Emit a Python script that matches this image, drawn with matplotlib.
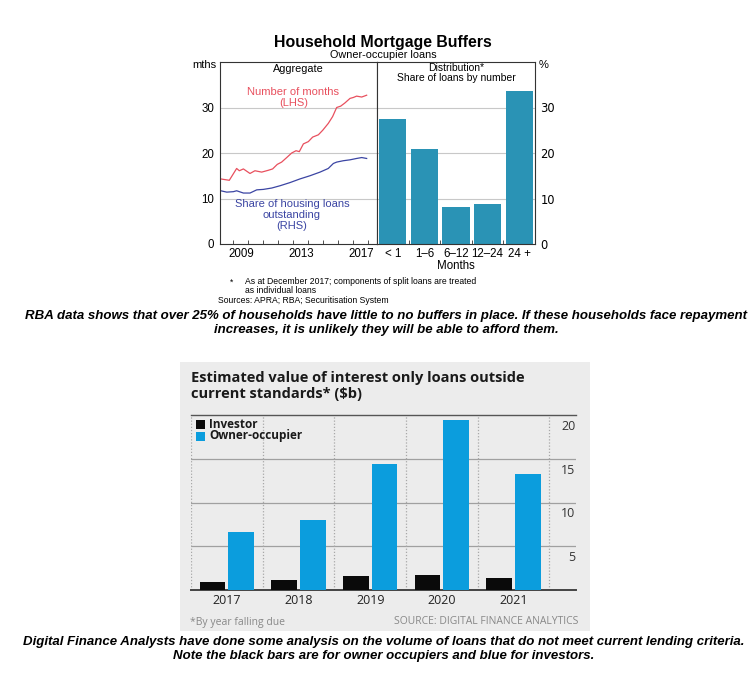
import matplotlib
matplotlib.use("Agg")
import matplotlib.pyplot as plt
from matplotlib.patches import Rectangle
import matplotlib.transforms as mtransforms

# --- RBA chart data -------------------------------------------------------
months_years = [2008.16, 2008.73, 2009.22, 2009.40, 2009.67, 2010.11, 2010.44,
                2010.89, 2011.33, 2011.62, 2011.93, 2012.22, 2012.56, 2012.89,
                2013.18, 2013.40, 2013.67, 2014.00, 2014.29, 2014.67, 2014.96,
                2015.33, 2015.62, 2015.89, 2016.16, 2016.44, 2016.78, 2017.00,
                2017.22, 2017.56, 2017.89]
months_vals = [14.3, 14.0, 16.6, 16.1, 16.5, 15.5, 16.1, 15.8, 16.2, 16.5, 17.5,
               18.0, 19.0, 20.0, 20.5, 20.3, 22.0, 22.5, 23.5, 24.0, 25.0, 26.5,
               28.0, 30.0, 30.3, 31.0, 32.0, 32.2, 32.5, 32.3, 32.7]

share_years = [2008.16, 2008.56, 2009.00, 2009.22, 2009.67, 2010.11, 2010.56,
               2011.00, 2011.56, 2012.11, 2012.78, 2013.44, 2014.11, 2014.78,
               2015.33, 2015.67, 2015.89, 2016.33, 2016.78, 2017.22, 2017.56,
               2017.89]
share_vals = [11.7, 11.4, 11.5, 11.7, 11.2, 11.2, 11.9, 12.0, 12.3, 12.8, 13.5,
              14.3, 15.0, 15.8, 16.6, 17.7, 18.0, 18.3, 18.5, 18.8, 19.0, 18.8]

dist_labels = ["< 1", "1\u20136", "6\u201312", "12\u201324", "24 +"]
dist_vals = [27.5, 20.8, 8.2, 8.8, 33.7]

# --- AFR chart data -------------------------------------------------------
years = ["2017", "2018", "2019", "2020", "2021"]
investor = [0.9, 1.1, 1.6, 1.7, 1.35]
owner_occ = [6.6, 8.0, 14.4, 19.4, 13.3]

W, H = 756, 686
RBA_FONT = "Liberation Sans"
AFR_FONT = "Open Sans"
RED = "#e8505e"
NAVY = "#3b45a3"
TEAL = "#2a93b5"
INV_COL = "#0a0a0a"
OWN_COL = "#0b9ddd"


def box(l, t, r, b):
    return [l / W, 1 - b / H, (r - l) / W, (b - t) / H]


def ftext(x, y, s, **kw):
    fig.text(x / W, 1 - y / H, s, **kw)


def frect(l, t, r, b, color, z=0):
    fig.patches.append(Rectangle((l / W, 1 - b / H), (r - l) / W, (b - t) / H,
                                 transform=fig.transFigure, facecolor=color,
                                 edgecolor="none", zorder=z))


fig = plt.figure(figsize=(W / 100, H / 100), dpi=100)

# ---------------- top chart ----------------
ftext(383, 46.5, "Household Mortgage Buffers", ha="center", va="baseline",
      fontsize=11.4, fontweight="bold", family=RBA_FONT)
ftext(383, 58.5, "Owner-occupier loans", ha="center", va="baseline",
      fontsize=7.8, family=RBA_FONT)

ax1 = fig.add_axes(box(220, 62, 377, 244))
ax2 = fig.add_axes(box(377, 62, 535, 244))

for ax in (ax1, ax2):
    ax.set_ylim(0, 40)
    ax.set_yticks([0, 10, 20, 30])
    for v in (10, 20, 30):
        ax.axhline(v, color="#c8c8c8", lw=0.8, zorder=0)
    for sp in ax.spines.values():
        sp.set_color("#333333")
        sp.set_linewidth(0.8)
    ax.tick_params(axis="y", length=0, labelsize=8.3, pad=4)
    for lab in ax.get_yticklabels():
        lab.set_family(RBA_FONT)

ax1.plot(months_years, months_vals, color=RED, lw=0.9)
ax1.plot(share_years, share_vals, color=NAVY, lw=0.9)
ax1.set_xlim(2008.11, 2018.58)
ax1.set_xticks([2009.5, 2013.5, 2017.5])
ax1.set_xticklabels(["2009", "2013", "2017"], family=RBA_FONT, fontsize=8.3)
ax1.set_xticks(range(2009, 2019), minor=True)
ax1.tick_params(axis="x", which="major", length=0, pad=3)
ax1.tick_params(axis="x", which="minor", direction="in", length=3,
                color="#333333", width=0.6)
ftext(298, 72, "Aggregate", ha="center", va="baseline", fontsize=7.8,
      family=RBA_FONT)
ax1.text(2013.0, 30.0, "Number of months\n(LHS)", color=RED, ha="center",
         va="bottom", fontsize=8, family=RBA_FONT, linespacing=1.05)
ax1.text(2012.9, 2.8, "Share of housing loans\noutstanding\n(RHS)", color=NAVY,
         ha="center", va="bottom", fontsize=8, family=RBA_FONT,
         linespacing=1.15)

ax2.bar(range(len(dist_vals)), dist_vals, width=0.86, color=TEAL, zorder=2)
ax2.set_xlim(-0.5, 4.5)
ax2.set_xticks(range(len(dist_labels)))
ax2.set_xticklabels(dist_labels, family=RBA_FONT, fontsize=8.3)
ax2.set_xticks([0.5, 1.5, 2.5, 3.5], minor=True)
ax2.tick_params(axis="x", which="major", length=0, pad=3)
ax2.tick_params(axis="x", which="minor", direction="in", length=3,
                color="#333333", width=0.6)
ax2.yaxis.tick_right()
ax2.set_xlabel("Months", family=RBA_FONT, fontsize=8.3, labelpad=0)
ftext(456, 71, "Distribution*", ha="center", va="baseline", fontsize=7.5,
      family=RBA_FONT)
ftext(456, 81, "Share of loans by number", ha="center", va="baseline",
      fontsize=7.5, family=RBA_FONT)

ftext(216, 65, "mths", ha="right", va="center", fontsize=8, family=RBA_FONT)
ftext(539, 65, "%", ha="left", va="center", fontsize=8, family=RBA_FONT)

ftext(232, 282, "*", ha="center", va="center", fontsize=6.2, family=RBA_FONT)
ftext(245, 286, "As at December 2017; components of split loans are treated\n"
      "as individual loans", ha="left", va="center", fontsize=6.2,
      family=RBA_FONT, linespacing=1.1)
ftext(218, 301, "Sources: APRA; RBA; Securitisation System", ha="left",
      va="center", fontsize=6.2, family=RBA_FONT)

cap_font = dict(ha="center", va="center", fontsize=9.5, fontweight="bold",
                style="italic", family=RBA_FONT, linespacing=1.32)
ftext(386, 323, "RBA data shows that over 25% of households have little to no "
      "buffers in place. If these households face repayment\nincreases, it is "
      "unlikely they will be able to afford them.", **cap_font)

# ---------------- bottom chart ----------------
frect(180, 362, 590, 631, "#ececec", z=-1)
ftext(191, 386, "Estimated value of interest only loans outside\n"
      "current standards* ($b)", ha="left", va="center", fontsize=10.5,
      fontweight="bold", family=AFR_FONT, color="#1a1a1a", linespacing=1.15)

ax3 = fig.add_axes(box(191, 415, 576, 590))
ax3.set_facecolor("none")
x = list(range(len(years)))
ax3.bar([i - 0.2 for i in x], investor, width=0.36, color=INV_COL, zorder=3)
ax3.bar([i + 0.2 for i in x], owner_occ, width=0.36, color=OWN_COL, zorder=3)
ax3.set_xlim(-0.5, 4.87)
ax3.set_ylim(0, 20)
for sp in ("left", "right"):
    ax3.spines[sp].set_visible(False)
ax3.spines["bottom"].set_color("#444444")
ax3.spines["bottom"].set_linewidth(1.4)
ax3.spines["top"].set_color("#555555")
ax3.spines["top"].set_linewidth(1.0)
for v in (5, 10, 15):
    ax3.axhline(v, color="#a0a0a0", lw=0.9, zorder=1)
for v in [i - 0.5 for i in range(len(years) + 1)]:
    ax3.axvline(v, color="#a8a8a8", lw=0.9, ls=(0, (1, 1.5)), zorder=1)
ax3.set_yticks([])
trans = mtransforms.blended_transform_factory(ax3.transAxes, ax3.transData)
for v in (5, 10, 15, 20):
    ax3.text(0.998, v - 0.55, str(v), transform=trans, ha="right", va="top",
             fontsize=9, family=AFR_FONT, color="#333333")
ax3.set_xticks(x)
ax3.set_xticklabels(years, family=AFR_FONT, fontsize=9, color="#222222")
ax3.tick_params(axis="x", length=0, pad=3)

frect(196, 420, 205, 429, INV_COL, z=5)
ftext(209, 424, "Investor", ha="left", va="center", fontsize=8.5,
      fontweight="bold", family=AFR_FONT, color="#1a1a1a")
frect(196, 432, 205, 441, OWN_COL, z=5)
ftext(209, 436, "Owner-occupier", ha="left", va="center", fontsize=8.5,
      fontweight="bold", family=AFR_FONT, color="#1a1a1a")

ftext(190, 622, "*By year falling due", ha="left", va="center", fontsize=7.5,
      family=AFR_FONT, color="#888888")
ftext(578, 622, "SOURCE: DIGITAL FINANCE ANALYTICS", ha="right", va="center",
      fontsize=7.5, family=AFR_FONT, color="#888888")

ftext(384, 649, "Digital Finance Analysts have done some analysis on the volume "
      "of loans that do not meet current lending criteria.\nNote the black bars "
      "are for owner occupiers and blue for investors.", **cap_font)

fig.savefig("out.png", dpi=100)
